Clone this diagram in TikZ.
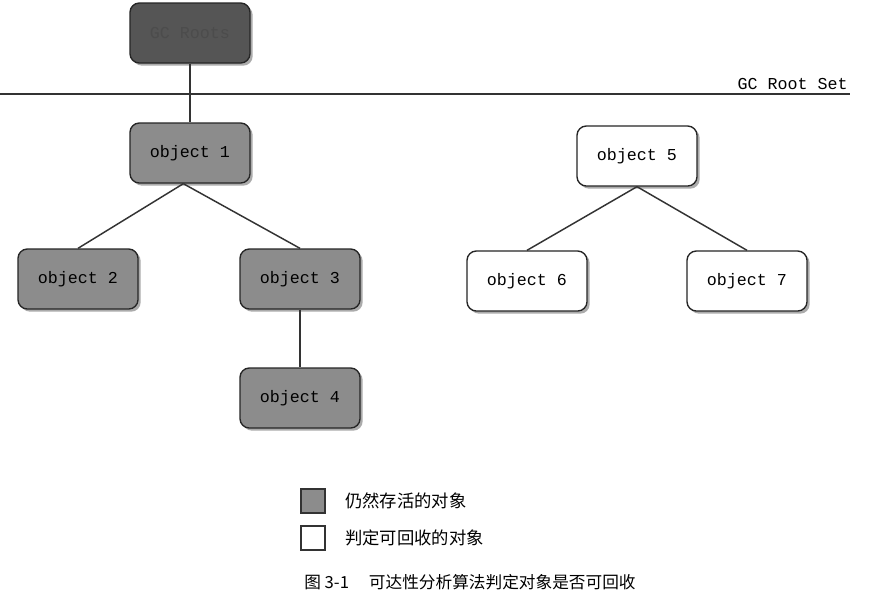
\documentclass[tikz,border=0pt]{standalone}
\usepackage{fontspec}
\setmonofont{Liberation Mono}
\newfontfamily\cjk{Noto Sans CJK SC}
\usetikzlibrary{shadows}
\definecolor{rootfill}{HTML}{555555}
\definecolor{livefill}{HTML}{8C8C8C}
\definecolor{edgecol}{HTML}{333333}
\begin{document}
\begin{tikzpicture}[x=0.75pt,y=-0.75pt,
  objbox/.style={draw=black!85,line width=1pt,rounded corners=7pt,minimum width=90pt,minimum height=45pt,
    font=\ttfamily\fontsize{12.5}{14}\selectfont,inner sep=0pt,
    drop shadow={shadow xshift=2pt,shadow yshift=-2pt,fill=black!55,opacity=0.6}},
  live/.style={objbox,fill=livefill},
  dead/.style={objbox,fill=white},
  rootbox/.style={objbox,fill=rootfill,text=black!70},
  conn/.style={draw=edgecol,line width=1.1pt},
  legbox/.style={draw=black!80,line width=0.9pt,minimum width=18pt,minimum height=18pt,inner sep=0pt},
  legtext/.style={font=\cjk\fontsize{13}{15}\selectfont,anchor=west,inner sep=0pt}]
\useasboundingbox[fill=white] (0,0) rectangle (890,615);

\node[rootbox] (roots) at (190,33) {GC Roots};
\coordinate (lineL) at (0,94);
\coordinate (lineR) at (850,94);
\draw[line width=1.1pt,black!80] (lineL) -- (lineR);
\node[font=\ttfamily\fontsize{12.5}{14}\selectfont,anchor=south east,inner sep=0pt] (setlabel) at (848,90) {GC Root Set};

\node[live] (o1) at (190,153) {object 1};
\node[live] (o2) at (78,279) {object 2};
\node[live] (o3) at (300,279) {object 3};
\node[live] (o4) at (300,398) {object 4};
\node[dead] (o5) at (637,156) {object 5};
\node[dead] (o6) at (527,281) {object 6};
\node[dead] (o7) at (747,281) {object 7};

\draw[conn] (roots.south) -- (o1.north);
\draw[conn] ([xshift=-5pt]o1.south) -- (o2.north);
\draw[conn] ([xshift=-5pt]o1.south) -- (o3.north);
\draw[conn] (o3.south) -- (o4.north);
\draw[conn] (o5.south) -- (o6.north);
\draw[conn] (o5.south) -- (o7.north);

\node[legbox,fill=livefill] (lg1) at (313,501) {};
\node[legbox,fill=white] (lg2) at (313,538) {};
\node[legtext] (lt1) at (345,501) {仍然存活的对象};
\node[legtext] (lt2) at (345,538) {判定可回收的对象};

\node[font=\cjk\fontsize{12.5}{15}\selectfont,inner sep=0pt] (cap) at (470,582) {图 3-1\hspace{1.2em}可达性分析算法判定对象是否可回收};
\end{tikzpicture}
\end{document}
